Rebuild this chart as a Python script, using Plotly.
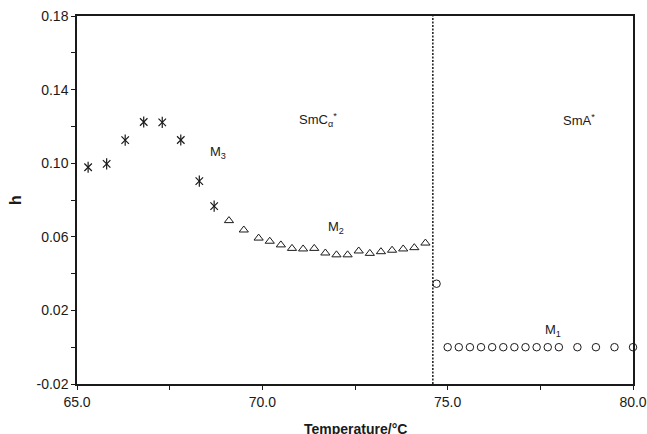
import plotly.graph_objects as go

# M3 (asterisks)
m3_t = [65.3, 65.8, 66.3, 66.8, 67.3, 67.8, 68.3, 68.7]
m3_h = [0.0978, 0.0996, 0.1125, 0.1224, 0.1222, 0.1126, 0.0903, 0.0767]

# M2 (triangles)
m2_t = [69.1, 69.5, 69.9, 70.2, 70.5, 70.8, 71.1, 71.4, 71.7, 72.0, 72.3,
        72.6, 72.9, 73.2, 73.5, 73.8, 74.1, 74.4]
m2_h = [0.0688, 0.0637, 0.0593, 0.0576, 0.0556, 0.0537, 0.0534, 0.0537,
        0.0512, 0.0502, 0.0502, 0.0523, 0.0510, 0.0519, 0.0527, 0.0534,
        0.0541, 0.0566]

# M1 (circles)
m1_t = [74.7, 75.0, 75.3, 75.6, 75.9, 76.2, 76.5, 76.8, 77.1, 77.4, 77.7,
        78.0, 78.5, 79.0, 79.5, 80.0]
m1_h = [0.0345, 0.0, 0.0, 0.0, 0.0, 0.0, 0.0, 0.0, 0.0, 0.0, 0.0,
        0.0, 0.0, 0.0, 0.0, 0.0]

transition_t = 74.6

x_ticks = [65.0, 67.5, 70.0, 72.5, 75.0, 77.5, 80.0]
x_ticktext = ["65.0", "", "70.0", "", "75.0", "", "80.0"]
y_ticks = [-0.02, 0.0, 0.02, 0.04, 0.06, 0.08, 0.10, 0.12, 0.14, 0.16, 0.18]
y_ticktext = ["-0.02", "", "0.02", "", "0.06", "", "0.10", "", "0.14", "", "0.18"]

labels = [
    (71.5, 0.1235, "SmC<sub>α</sub><sup>*</sup>"),
    (78.55, 0.1235, "SmA<sup>*</sup>"),
    (68.8, 0.1060, "M<sub>3</sub>"),
    (72.0, 0.0650, "M<sub>2</sub>"),
    (77.85, 0.0093, "M<sub>1</sub>"),
]

ink = "#1a1a1a"
fig = go.Figure()

fig.add_trace(go.Scatter(
    x=[transition_t, transition_t], y=[-0.02, 0.18], mode="lines",
    line=dict(color=ink, width=1.5, dash="2px,1.5px"), hoverinfo="skip"))

for sym, sz in (("x-thin-open", 7.5), ("line-ns-open", 8)):
    fig.add_trace(go.Scatter(
        x=m3_t, y=m3_h, mode="markers",
        marker=dict(symbol=sym, size=sz, color=ink,
                    line=dict(color=ink, width=1.2))))

fig.add_trace(go.Scatter(
    x=m2_t, y=m2_h, mode="markers",
    marker=dict(symbol="triangle-up-open", size=8, color=ink,
                line=dict(color=ink, width=1))))

fig.add_trace(go.Scatter(
    x=m1_t, y=m1_h, mode="markers", cliponaxis=False,
    marker=dict(symbol="circle-open", size=7.5, color=ink,
                line=dict(color=ink, width=1))))

for x, y, t in labels:
    fig.add_annotation(x=x, y=y, text=t, showarrow=False,
                       font=dict(size=13, color=ink))

fig.add_annotation(xref="paper", yref="paper", x=0.5, y=0, yanchor="top",
                   yshift=-35, text="<b>Temperature/°C</b>", showarrow=False,
                   font=dict(size=14, color=ink))
fig.add_annotation(xref="paper", yref="paper", x=0, y=0.5, xanchor="center",
                   xshift=-62, textangle=-90, text="<b>h</b>", showarrow=False,
                   font=dict(size=16, color=ink))

axis_common = dict(showgrid=False, zeroline=False, showline=True,
                   linecolor=ink, linewidth=1.5, mirror=True, automargin=False,
                   ticks="outside", ticklen=4, tickwidth=1, tickcolor=ink,
                   tickfont=dict(size=14, color=ink, family="Liberation Sans, Arial"))

fig.update_xaxes(range=[65, 80], tickmode="array", tickvals=x_ticks,
                 ticktext=x_ticktext, **axis_common)
fig.update_yaxes(range=[-0.02, 0.18], tickmode="array", tickvals=y_ticks,
                 ticktext=y_ticktext, **axis_common)

fig.update_layout(
    width=647, height=434, showlegend=False, autosize=False,
    margin=dict(l=77, r=14, t=16, b=50, autoexpand=False),
    plot_bgcolor="white", paper_bgcolor="white",
    font=dict(family="Liberation Sans, Arial", color=ink),
)

fig.write_html("out.html")
